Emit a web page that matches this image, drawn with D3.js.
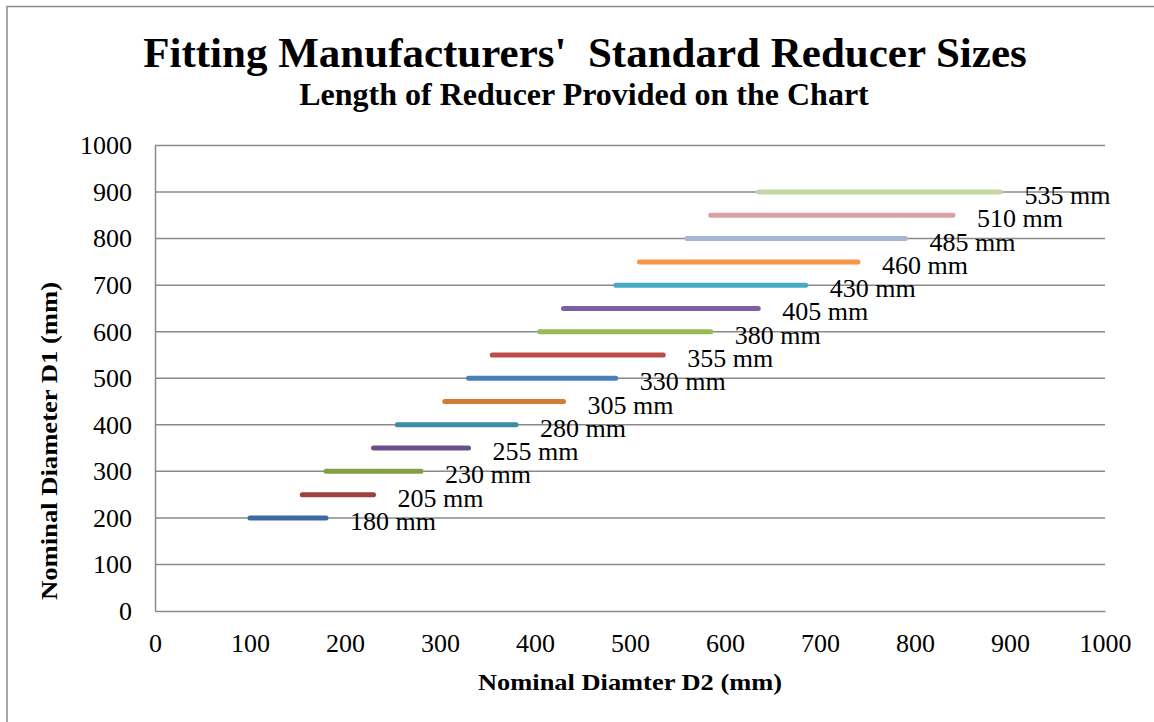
<!DOCTYPE html>
<html>
<head>
<meta charset="utf-8">
<script src="https://cdn.jsdelivr.net/npm/d3@7"></script>
<style>
  html, body { margin: 0; padding: 0; background: #fff; }
  svg { display: block; font-family: "Liberation Serif", "Times New Roman", serif; }
</style>
</head>
<body>
<svg id="chart" width="1154" height="722"></svg>
<script>
// Reducer sizes: large end D1, small-end D2 range, and reducer length
const d1Sizes   = [200, 250, 300, 350, 400, 450, 500, 550, 600, 650, 700, 750, 800, 850, 900];
const d2Start   = [100, 155, 180, 230, 255, 305, 330, 355, 405, 430, 485, 510, 560, 585, 635];
const d2End     = [180, 230, 280, 330, 380, 430, 485, 535, 585, 635, 685, 740, 790, 840, 890];
const lengthsMm = [180, 205, 230, 255, 280, 305, 330, 355, 380, 405, 430, 460, 485, 510, 535];
const seriesColors = ["#3C6AA0", "#A0403C", "#84A046", "#6A4F8C", "#3A8DA3", "#D07C36", "#4A7EBB",
                      "#BE4B48", "#98B954", "#7D60A0", "#46AAC5", "#F79646", "#A5B6D4", "#D7A2A1", "#C3D6A5"];
const axisTicks = [0, 100, 200, 300, 400, 500, 600, 700, 800, 900, 1000];

const rows = d1Sizes.map((d1, i) => ({
  d1, start: d2Start[i], end: d2End[i], len: lengthsMm[i], color: seriesColors[i]
}));

const svg = d3.select("#chart");
const plot = { left: 155, right: 1105, top: 145.5, bottom: 611 };

const x = d3.scaleLinear().domain([0, 1000]).range([plot.left, plot.right]);
const y = d3.scaleLinear().domain([0, 1000]).range([plot.bottom, plot.top]);

// outer chart frame
svg.append("rect")
  .attr("x", 7).attr("y", 6.5).attr("width", 1160).attr("height", 730)
  .attr("fill", "none").attr("stroke", "#8c8c8c").attr("stroke-width", 1.5);

// titles
svg.append("text")
  .attr("x", 585).attr("y", 67).attr("text-anchor", "middle")
  .attr("font-size", 43).attr("font-weight", "bold")
  .style("white-space", "pre")
  .text("Fitting Manufacturers'  Standard Reducer Sizes");
svg.append("text")
  .attr("x", 584).attr("y", 105).attr("text-anchor", "middle")
  .attr("font-size", 32).attr("font-weight", "bold")
  .text("Length of Reducer Provided on the Chart");

// horizontal gridlines
svg.append("g").selectAll("line")
  .data(axisTicks.filter(t => t > 0))
  .join("line")
  .attr("x1", plot.left).attr("x2", plot.right)
  .attr("y1", d => y(d)).attr("y2", d => y(d))
  .attr("stroke", "#8a8a8a").attr("stroke-width", 1.5);

// y axis
const yAxis = svg.append("g")
  .attr("transform", `translate(${plot.left},0)`)
  .call(d3.axisLeft(y).tickValues(axisTicks).tickSize(0).tickPadding(23).tickFormat(d3.format("d")));
yAxis.select(".domain").attr("stroke", "#8a8a8a").attr("stroke-width", 1.5);
yAxis.selectAll("text").attr("font-family", "Liberation Serif, serif").attr("font-size", 26).attr("fill", "#000");

// x axis
const xAxis = svg.append("g")
  .attr("transform", `translate(0,${plot.bottom})`)
  .call(d3.axisBottom(x).tickValues(axisTicks).tickSize(0).tickPadding(23).tickFormat(d3.format("d")));
xAxis.select(".domain").attr("stroke", "#8a8a8a").attr("stroke-width", 1.5);
xAxis.selectAll("text").attr("font-family", "Liberation Serif, serif").attr("font-size", 26).attr("fill", "#000");

// axis titles
svg.append("text")
  .attr("x", 630).attr("y", 690).attr("text-anchor", "middle")
  .attr("font-size", 24).attr("font-weight", "bold")
  .attr("textLength", 304).attr("lengthAdjust", "spacingAndGlyphs")
  .text("Nominal Diamter D2 (mm)");
svg.append("text")
  .attr("transform", "translate(57,441) rotate(-90)")
  .attr("text-anchor", "middle")
  .attr("font-size", 23).attr("font-weight", "bold")
  .attr("textLength", 318).attr("lengthAdjust", "spacingAndGlyphs")
  .text("Nominal Diameter D1 (mm)");

// reducer segments
const marks = svg.append("g");
marks.selectAll("line")
  .data(rows)
  .join("line")
  .attr("x1", d => x(d.start)).attr("x2", d => x(d.end))
  .attr("y1", d => y(d.d1)).attr("y2", d => y(d.d1))
  .attr("stroke", d => d.color).attr("stroke-width", 5).attr("stroke-linecap", "round");

// length labels at the right end of each segment
marks.selectAll("text")
  .data(rows)
  .join("text")
  .attr("x", d => x(d.end) + 24)
  .attr("y", d => y(d.d1) + 12)
  .attr("font-size", 26)
  .text(d => `${d.len} mm`);
</script>
</body>
</html>
